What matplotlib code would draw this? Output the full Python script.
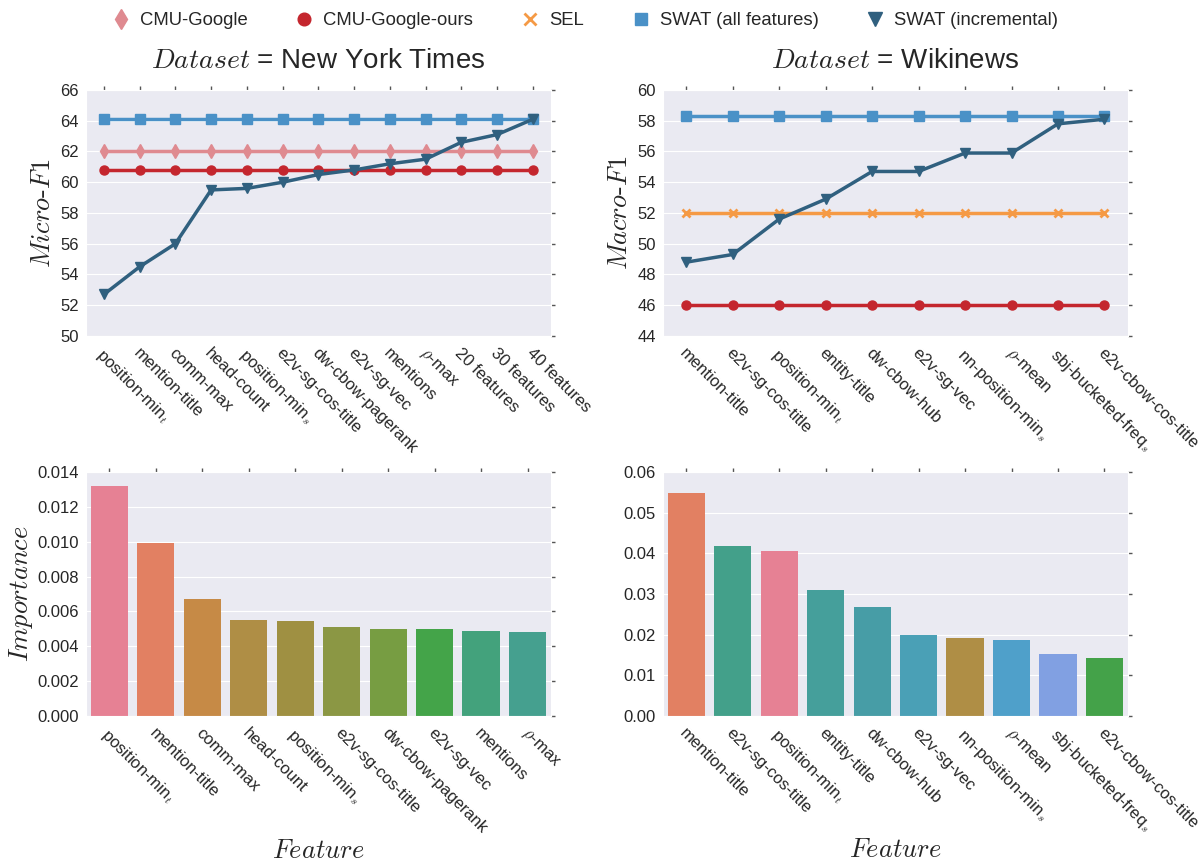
import numpy as np
import matplotlib
matplotlib.use('Agg')
import matplotlib.pyplot as plt
import matplotlib.transforms as mtransforms
import seaborn as sns
from matplotlib.lines import Line2D
from matplotlib.ticker import FormatStrFormatter

sns.set_style('darkgrid')
plt.rcParams['font.family'] = ['Liberation Sans', 'DejaVu Sans']
plt.rcParams['mathtext.fontset'] = 'cm'
plt.rcParams['text.color'] = '#262626'
plt.rcParams['xtick.color'] = '#262626'
plt.rcParams['ytick.color'] = '#262626'

# New York Times
nyt_steps = ['position-min$_t$', 'mention-title', 'comm-max', 'head-count', 'position-min$_s$',
             'e2v-sg-cos-title', 'dw-cbow-pagerank', 'e2v-sg-vec', 'mentions', r'$\rho$-max',
             '20 features', '30 features', '40 features']
nyt_cmu_google = [62.0, 62.0, 62.0, 62.0, 62.0, 62.0, 62.0, 62.0, 62.0, 62.0, 62.0, 62.0, 62.0]
nyt_cmu_ours = [60.8, 60.8, 60.8, 60.8, 60.8, 60.8, 60.8, 60.8, 60.8, 60.8, 60.8, 60.8, 60.8]
nyt_swat_all = [64.1, 64.1, 64.1, 64.1, 64.1, 64.1, 64.1, 64.1, 64.1, 64.1, 64.1, 64.1, 64.1]
nyt_swat_inc = [52.7, 54.5, 56.0, 59.5, 59.6, 60.0, 60.5, 60.8, 61.2, 61.5, 62.6, 63.1, 64.1]

nyt_features = ['position-min$_t$', 'mention-title', 'comm-max', 'head-count', 'position-min$_s$',
                'e2v-sg-cos-title', 'dw-cbow-pagerank', 'e2v-sg-vec', 'mentions', r'$\rho$-max']
nyt_importance = [0.0132, 0.0099, 0.0067, 0.0055, 0.00545, 0.0051, 0.0050, 0.0050, 0.0049, 0.0048]

# Wikinews
wn_steps = ['mention-title', 'e2v-sg-cos-title', 'position-min$_t$', 'entity-title', 'dw-cbow-hub',
            'e2v-sg-vec', 'nn-position-min$_s$', r'$\rho$-mean', 'sbj-bucketed-freq$_s$', 'e2v-cbow-cos-title']
wn_sel = [52.0, 52.0, 52.0, 52.0, 52.0, 52.0, 52.0, 52.0, 52.0, 52.0]
wn_cmu_ours = [46.0, 46.0, 46.0, 46.0, 46.0, 46.0, 46.0, 46.0, 46.0, 46.0]
wn_swat_all = [58.3, 58.3, 58.3, 58.3, 58.3, 58.3, 58.3, 58.3, 58.3, 58.3]
wn_swat_inc = [48.8, 49.3, 51.6, 52.9, 54.7, 54.7, 55.9, 55.9, 57.8, 58.1]

wn_features = wn_steps
wn_importance = [0.0548, 0.0418, 0.0406, 0.0311, 0.0269, 0.0198, 0.0191, 0.0186, 0.0152, 0.0142]

nyt_bar_colors = ['#e68194', '#e28062', '#c68a46', '#af8e45', '#9f9042',
                  '#8b9744', '#779d42', '#44a449', '#43a27c', '#45a08f']
wn_bar_colors = ['#e28062', '#43a08a', '#e68194', '#459f9b', '#479da6',
                 '#4aa0b6', '#af8e45', '#4fa0ca', '#81a0e2', '#44a249']

styles = {
    'CMU-Google': dict(color='#df8a90', marker='d', markersize=7.5),
    'CMU-Google-ours': dict(color='#c4262e', marker='o', markersize=6.5),
    'SEL': dict(color='#f59a45', marker='x', markersize=6, markeredgewidth=2),
    'SWAT (all features)': dict(color='#4a91c7', marker='s', markersize=6.5),
    'SWAT (incremental)': dict(color='#30607f', marker='v', markersize=7),
}

fig = plt.figure(figsize=(12.01, 8.67), dpi=100)
ax1 = fig.add_axes([0.0716, 0.6125, 0.387, 0.2837])
ax2 = fig.add_axes([0.552, 0.6125, 0.387, 0.2837])
ax3 = fig.add_axes([0.0716, 0.1742, 0.387, 0.2814])
ax4 = fig.add_axes([0.552, 0.1742, 0.387, 0.2814])

# nudge rotated tick labels a little to the right, like the original
shift = mtransforms.ScaledTranslation(0.015, 0, fig.dpi_scale_trans)
tick_fs = 11.3


def style_axes(ax):
    ax.grid(axis='x', visible=False)
    ax.tick_params(axis='both', labelsize=12, direction='out', length=3, width=1,
                   color='#555555', top=True, right=True, pad=2)
    ax.tick_params(axis='x', pad=4)
    for lab in ax.get_xticklabels():
        lab.set_transform(lab.get_transform() + shift)


def line_panel(ax, steps, series, ylim, ylabel, title):
    x = np.arange(len(steps))
    for name, vals in series:
        ax.plot(x, vals, lw=2.5, label=name, **styles[name])
    ax.set_xlim(-0.5, len(steps) - 0.5)
    ax.set_ylim(*ylim)
    ax.set_yticks(np.arange(ylim[0], ylim[1] + 1, 2))
    ax.set_xticks(x)
    ax.set_xticklabels(steps, rotation=-45, ha='left', rotation_mode='anchor', fontsize=tick_fs)
    ax.set_ylabel(ylabel, fontsize=19, labelpad=4)
    ax.set_title(title, fontsize=20, pad=16)
    style_axes(ax)


line_panel(ax1, nyt_steps,
           [('CMU-Google-ours', nyt_cmu_ours), ('CMU-Google', nyt_cmu_google),
            ('SWAT (all features)', nyt_swat_all), ('SWAT (incremental)', nyt_swat_inc)],
           (50, 66), r'$Micro\text{-}F1$', r'$Dataset$ = New York Times')
line_panel(ax2, wn_steps,
           [('CMU-Google-ours', wn_cmu_ours), ('SEL', wn_sel),
            ('SWAT (all features)', wn_swat_all), ('SWAT (incremental)', wn_swat_inc)],
           (44, 60), r'$Macro\text{-}F1$', r'$Dataset$ = Wikinews')


def bar_panel(ax, features, values, colors, ylim, step, fmt, ylabel):
    x = np.arange(len(features))
    ax.bar(x, values, width=0.8, color=colors, linewidth=0)
    ax.set_xlim(-0.5, len(features) - 0.5)
    ax.set_ylim(*ylim)
    ax.set_yticks(np.arange(0, ylim[1] + step / 2, step))
    ax.yaxis.set_major_formatter(FormatStrFormatter(fmt))
    ax.set_xticks(x)
    ax.set_xticklabels(features, rotation=-45, ha='left', rotation_mode='anchor', fontsize=tick_fs)
    ax.set_xlabel(r'$Feature$', fontsize=19, labelpad=2)
    if ylabel:
        ax.set_ylabel(ylabel, fontsize=19, labelpad=2)
    style_axes(ax)


bar_panel(ax3, nyt_features, nyt_importance, nyt_bar_colors, (0, 0.014), 0.002, '%.3f',
          r'$Importance$')
bar_panel(ax4, wn_features, wn_importance, wn_bar_colors, (0, 0.06), 0.01, '%.2f', None)

handles = [Line2D([], [], linestyle='', label=name, **st) for name, st in styles.items()]
fig.legend(handles=handles, loc='upper center', bbox_to_anchor=(0.487, 1.005), ncol=5,
           frameon=False, fontsize=13.3, markerscale=1.4, handlelength=1.0,
           handletextpad=0.53, columnspacing=2.58)

fig.savefig('out.png', dpi=100)
